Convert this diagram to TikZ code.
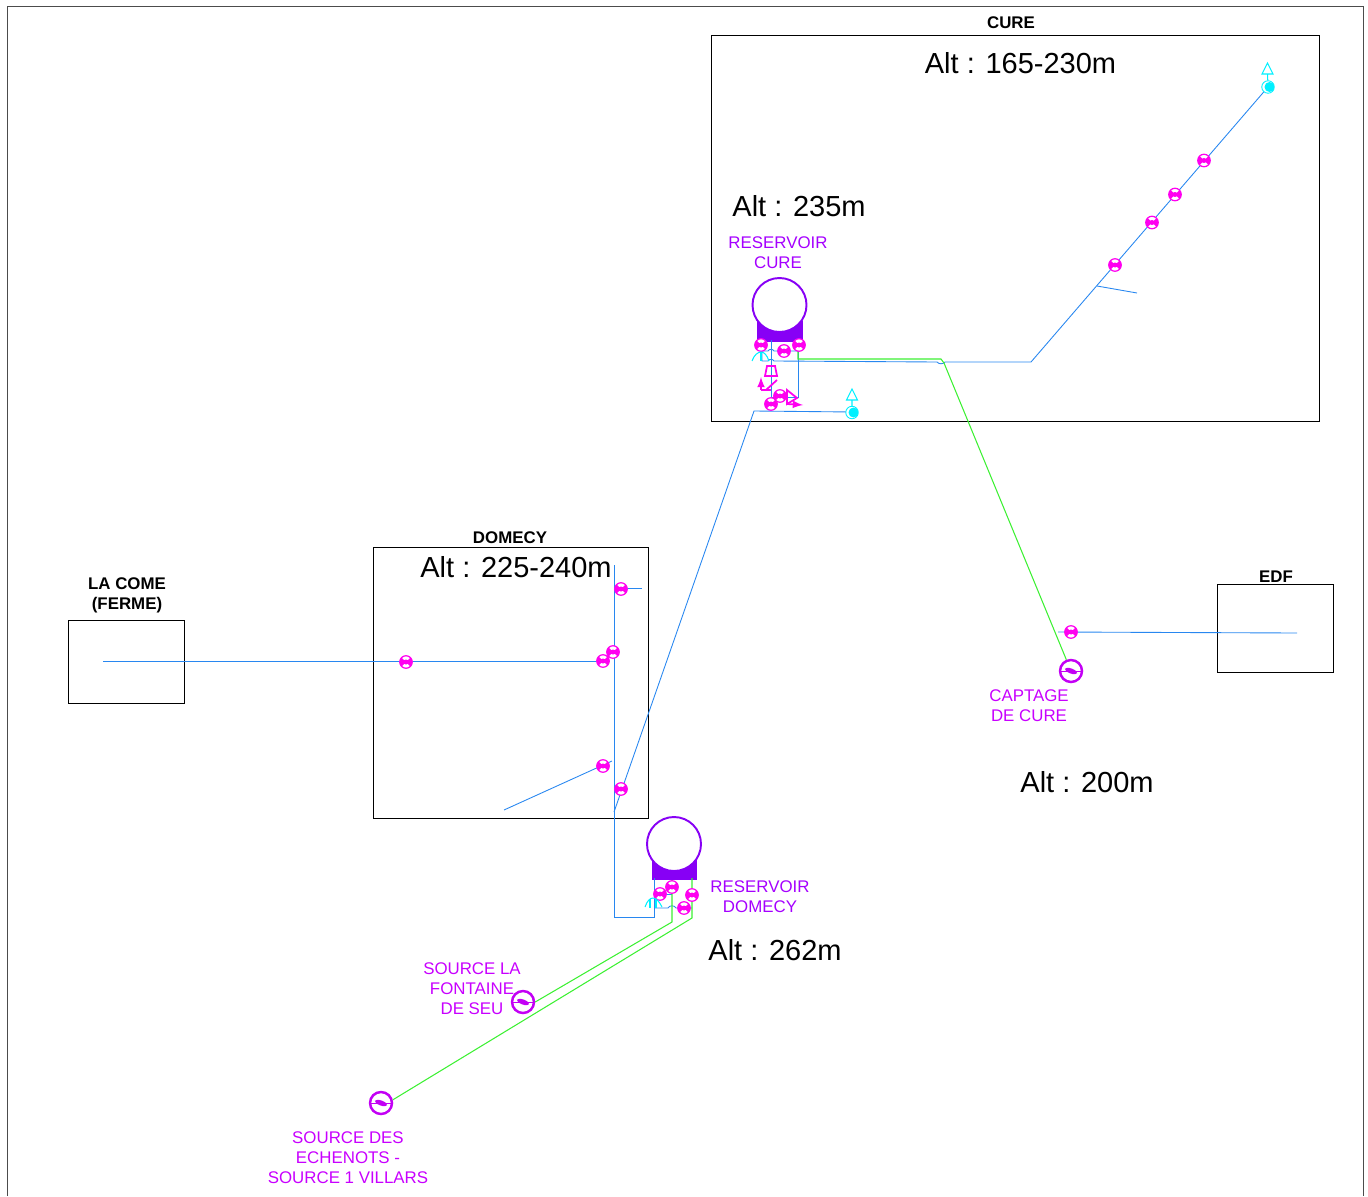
\documentclass[tikz,border=0pt]{standalone}
\usepackage{fontspec}
\setmainfont{Liberation Sans}
\definecolor{pipeblue}{RGB}{40,135,240}
\definecolor{pipegreen}{RGB}{60,240,50}
\definecolor{resviolet}{RGB}{135,0,245}
\definecolor{srcviolet}{RGB}{195,0,245}
\definecolor{labelviolet}{RGB}{200,0,255}
\definecolor{labelres}{RGB}{165,0,255}
\definecolor{valvemag}{RGB}{255,0,240}
\definecolor{hydcyan}{RGB}{0,240,255}
\tikzset{
  zone/.style={draw=black, line width=0.5pt},
  zonetitle/.style={font=\bfseries\fontsize{9.6}{11.3}\selectfont, align=center, inner sep=0pt},
  alt/.style={font=\fontsize{16.5}{20}\selectfont, inner sep=0pt},
  lbl/.style={text=labelviolet, font=\fontsize{9.6}{11.4}\selectfont, align=center, inner sep=0pt},
  lblres/.style={lbl, text=labelres},
  blueline/.style={draw=pipeblue, line width=0.5pt},
  greenline/.style={draw=pipegreen, line width=0.6pt},
  vanne/.style={circle, draw=valvemag, line width=0.7pt, fill=white, inner sep=0pt, minimum size=2.5mm,
    path picture={\fill[valvemag] (path picture bounding box.north west) -- (path picture bounding box.south east)
      -- (path picture bounding box.north east) -- (path picture bounding box.south west) -- cycle;
      \fill[valvemag] (path picture bounding box.center) circle (0.05cm);}},
  captage/.style={circle, draw=srcviolet, line width=1.4pt, fill=white, inner sep=0pt, minimum size=4.4mm,
    path picture={\fill[srcviolet] (path picture bounding box.center) ellipse [x radius=0.13cm, y radius=0.05cm, rotate=-20];
      \draw[srcviolet, line width=0.5pt] (path picture bounding box.west) -- (path picture bounding box.east);}},
  cuve/.style={circle, draw=resviolet, line width=1.1pt, fill=white, inner sep=0pt, minimum size=1.08cm},
  socle/.style={fill=resviolet, draw=resviolet},
  hydrant/.style={circle, draw=hydcyan, line width=0.5pt, fill=white, inner sep=0pt, minimum size=2.5mm,
    path picture={\fill[hydcyan] ([xshift=0.03cm]path picture bounding box.center) circle (0.1cm);}},
  hydtop/.style={draw=hydcyan, line width=0.6pt},
  piece/.style={draw=valvemag, line width=1pt},
  parapluie/.style={draw=hydcyan, line width=0.6pt},
}
\begin{document}
\begin{tikzpicture}[x=0.02cm, y=-0.02cm]
    \useasboundingbox (0,0) rectangle (1368,1196);

    % Cadre
    \draw[black!70, line width=0.5pt] (7,1196) -- (7,6) -- (1363,6) -- (1363,1196);

    % Zones
    \draw[zone] (711,35) rectangle (1319,421);
    \draw[zone] (373,547) rectangle (648,818);
    \draw[zone] (68,620) rectangle (184,703);
    \draw[zone] (1217,584) rectangle (1333,672);

    \node[zonetitle] (tcure) at (1011,23) {CURE};
    \node[zonetitle] (tdomecy) at (510,538) {DOMECY};
    \node[zonetitle] (tcome) at (127,595.5) {LA COME\\(FERME)};
    \node[zonetitle] (tedf) at (1276,577) {EDF};

    % Altitudes
    \node[alt] (a1) at (1020.5,63) {Alt : 165-230m};
    \node[alt] (a2) at (799,206) {Alt : 235m};
    \node[alt] (a3) at (516,567) {Alt : 225-240m};
    \node[alt] (a4) at (1087,782) {Alt : 200m};
    \node[alt] (a5) at (775,950) {Alt : 262m};

    % Points des conduites
    \coordinate (cfin) at (1268,87);
    \coordinate (ccoude) at (1031,362);
    \coordinate (cg) at (762,361);
    \coordinate (cgh) at (762,351);
    \coordinate (cd) at (798,351);
    \coordinate (cdh) at (798,340);
    \coordinate (cdb) at (798,397);
    \coordinate (cmb) at (771,397);
    \coordinate (cv) at (771,340);
    \coordinate (cvb) at (771,410);
    \coordinate (bifa) at (1097,286);
    \coordinate (bifb) at (1137,293);
    \coordinate (dep) at (754,411);
    \coordinate (depb) at (614,812);
    \coordinate (dh) at (614,565);
    \coordinate (db) at (614,917);
    \coordinate (dr) at (654,917);
    \coordinate (drh) at (654,878);
    \coordinate (rb) at (692,908);
    \coordinate (rg) at (654,908);
    \coordinate (rm) at (672,894);
    \coordinate (rl) at (654,894);
    \coordinate (edfa) at (1058,632);
    \coordinate (edfb) at (1297,633);
    \coordinate (comea) at (103,661);
    \coordinate (comeb) at (610,661);
    \coordinate (brh) at (642,588);
    \coordinate (brg) at (614,588);
    \coordinate (sa) at (504,810);
    \coordinate (sb) at (612,761);

    % Reservoirs
    \fill[socle] (757,321) rectangle (802,341);
    \node[cuve] (rescure) at (779.5,305) {};
    \fill[socle] (652,860) rectangle (696,879);
    \node[cuve] (resdomecy) at (674,844) {};

    % Sources
    \node[captage] (scure) at (1071,671) {};
    \node[captage] (sfont) at (523,1002) {};
    \node[captage] (sech) at (381,1103) {};

    % Conduites bleues
    \draw[blueline] (cfin) -- (ccoude) -- (945,362) to[bend left=50] (937,362) -- (774,361) to[bend right=70] (768,361) -- (cg) -- (cgh) -- (768,351) to[bend left=70] (774,351) -- (cd);
    \draw[blueline] (cdh) -- (cdb) -- (cmb);
    \draw[blueline] (cv) -- (cvb);
    \draw[blueline] (bifa) -- (bifb);
    \draw[blueline] (depb) -- (dep) -- (852,412);
    \draw[blueline] (dh) -- (db) -- (dr) -- (drh);
    \draw[blueline] (rg) -- (668,908) to[bend left=70] (676,908) -- (rb);
    \draw[blueline] (rl) -- (rm);
    \draw[blueline] (edfa) -- (edfb);
    \draw[blueline] (comea) -- (comeb);
    \draw[blueline] (brg) -- (brh);
    \draw[blueline] (sa) -- (sb);

    % Conduites vertes
    \coordinate (gh) at (798,340);
    \coordinate (gc) at (798,359);
    \coordinate (gt) at (941,359);
    \coordinate (gd) at (944,363);
    \coordinate (v1h) at (672,880);
    \coordinate (v1b) at (672,922);
    \coordinate (v2h) at (692,878);
    \coordinate (v2b) at (692,918);
    \draw[greenline] (gh) -- (gc) -- (gt) -- (gd) -- (scure);
    \draw[greenline] (v1h) -- (v1b) -- (sfont.east);
    \draw[greenline] (v2h) -- (v2b) -- (sech.15);

    % Vannes
    \foreach \nom/\px/\py in {v1/1204/160.5, v2/1175/194.5, v3/1152/222.5, v4/1115/265,
        v5/761/345, v6/784/351, v7/799/345, v8/771/404, v9/780/396,
        v10/1071/632, v11/406/662, v12/603/661, v13/613/652, v14/621/589,
        v15/603/766, v16/621/789, v17/660/894, v18/672/887, v19/692/895, v20/684/908}
      \node[vanne] (\nom) at (\px,\py) {};

    % Bornes
    \node[hydrant] (h1) at (1268,87) {};
    \node[hydrant] (h2) at (852,412.5) {};
    \coordinate (h1t) at (1267.5,74);
    \coordinate (h2t) at (852,400);
    \draw[hydtop] (h1) -- (h1t) -- (1262,74) -- (1267.5,63) -- (1273,74) -- (h1t);
    \draw[hydtop] (h2) -- (h2t) -- (846.5,400) -- (852,389) -- (857.5,400) -- (h2t);

    % Pieces de la chambre
    \draw[piece] (767,366) -- (775,366) -- (777,376) -- (765,376) -- cycle;
    \draw[piece, ->, >=latex] (761,390) -- (761,377);
    \draw[piece] (761,390) -- (771,390);
    \draw[piece] (766,390) -- (777,380);
    \draw[piece] (787,390) -- (787,404) -- (797,398) -- cycle;
    \draw[piece, ->, >=latex] (787,404) -- (803,405);

    % Parapluies
    \draw[parapluie] (752,361) .. controls (754,355) and (758,352) .. (761,352);
    \draw[parapluie] (761,352) .. controls (764,352) and (767,355) .. (769,361);
    \draw[parapluie] (761,352) -- (761,361);
    \draw[parapluie] (645,907) .. controls (647,901) and (650,898) .. (653,898);
    \draw[parapluie] (653,898) .. controls (656,898) and (659,901) .. (662,907);
    \draw[parapluie] (650,899) -- (650,908);
    \draw[parapluie] (656,899) -- (656,908);

    % Textes
    \node[lblres] (lrc) at (778,253) {RESERVOIR\\CURE};
    \node[lblres] (lrd) at (760,897) {RESERVOIR\\DOMECY};
    \node[lbl] (lcap) at (1029,706) {CAPTAGE\\DE CURE};
    \node[lbl] (lfont) at (472,989) {SOURCE LA\\FONTAINE\\DE SEU};
    \node[lbl] (lech) at (348,1158) {SOURCE DES\\ECHENOTS -\\SOURCE 1 VILLARS};

\end{tikzpicture}
\end{document}
